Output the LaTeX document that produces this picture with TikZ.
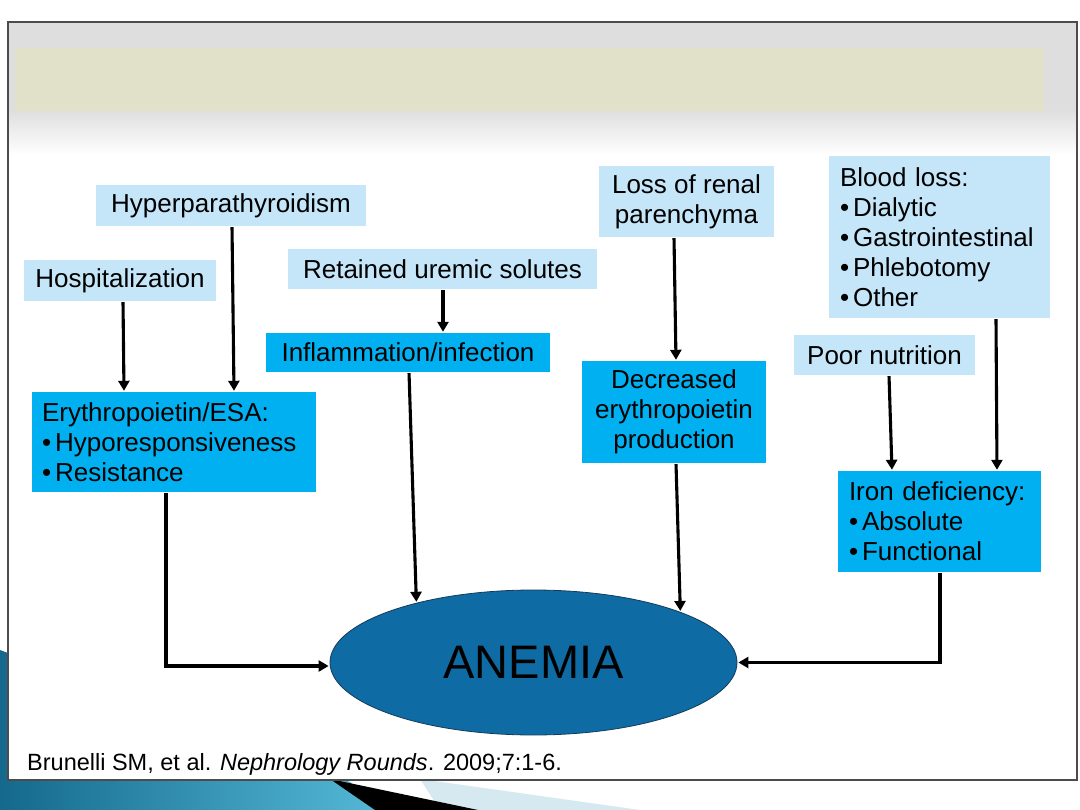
\documentclass[tikz,border=0pt]{standalone}
\usepackage{fontspec}
\setmainfont{Liberation Sans}
\usetikzlibrary{arrows.meta,shapes.geometric}
\definecolor{lightbox}{RGB}{197,230,248}
\definecolor{darkbox}{RGB}{0,176,240}
\definecolor{ellfill}{RGB}{14,107,164}
\definecolor{elldraw}{RGB}{20,60,90}
\definecolor{titlebar}{RGB}{225,225,201}
\definecolor{topgrey}{RGB}{222,222,222}
\definecolor{tealA}{RGB}{20,105,140}
\definecolor{tealB}{RGB}{85,185,215}
\definecolor{paleblue}{RGB}{214,232,240}
\begin{document}
\begin{tikzpicture}[x=1pt,y=-1pt,
  txt/.style={inner sep=0pt, font=\fontsize{26}{30}\selectfont},
  lbox/.style={txt, fill=lightbox},
  dbox/.style={txt, fill=darkbox},
  arr/.style={line width=3.1pt, -{Triangle[length=10pt,width=11pt]}, shorten <=1pt, shorten >=1pt}]
\useasboundingbox (0,0) rectangle (1080,810);
\fill[white] (0,0) rectangle (1080,810);
% bottom-left swoosh
\shade[left color=tealA, right color=tealB] (0,650) -- (350,782) -- (385,810) -- (0,810) -- cycle;
\fill[paleblue] (420,779) -- (640,810) -- (440,810) -- cycle;
\fill[black] (330,779) -- (478,810) -- (375,810) -- cycle;
% slide frame
\fill[white] (8,22) rectangle (1077,780);
\fill[topgrey] (8,22) rectangle (1077,110);
\shade[top color=topgrey, bottom color=white] (8,109.5) rectangle (1077,155);
\draw[draw=black!70, line width=1.2pt] (8,22) rectangle (1077,780);
\fill[titlebar] (15,48) rectangle (1044,111);
% nodes
\node[lbox, minimum width=270pt, minimum height=41pt] (hyper) at (231,205.5) {Hyperparathyroidism};
\node[lbox, minimum width=192pt, minimum height=41pt] (hosp) at (120,280.5) {Hospitalization};
\node[lbox, minimum width=309pt, minimum height=40pt] (ret) at (442.5,269) {Retained uremic solutes};
\node[dbox, minimum width=284pt, minimum height=39pt] (infl) at (408,352.5) {Inflammation/infection};
\node[lbox, minimum width=175pt, minimum height=71pt, align=center] (loss) at (686.5,201.5) {Loss of renal\\parenchyma};
\node[lbox, text width=199pt, inner xsep=11pt, minimum height=162pt, align=left] (blood) at (939.5,237)
  {Blood loss:\\\textbullet\hspace{4pt}Dialytic\\\textbullet\hspace{4pt}Gastrointestinal\\\textbullet\hspace{4pt}Phlebotomy\\\textbullet\hspace{4pt}Other};
\node[lbox, minimum width=181pt, minimum height=40pt] (poor) at (884.5,355) {Poor nutrition};
\node[dbox, text width=264pt, inner xsep=10pt, minimum height=100pt, align=left] (epo) at (174,442)
  {Erythropoietin/ESA:\\\textbullet\hspace{4pt}Hyporesponsiveness\\\textbullet\hspace{4pt}Resistance};
\node[dbox, minimum width=184pt, minimum height=102pt, align=center] (dec) at (674,412) {Decreased\\erythropoietin\\production};
\node[dbox, text width=181pt, inner xsep=11pt, minimum height=101pt, align=left] (iron) at (939.5,521.5)
  {Iron deficiency:\\\textbullet\hspace{4pt}Absolute\\\textbullet\hspace{4pt}Functional};
\node[ellipse, fill=ellfill, draw=elldraw, line width=0.8pt, minimum width=407pt, minimum height=145pt, inner sep=0pt,
  font=\fontsize{47}{50}\selectfont] (anemia) at (533.5,662.5) {ANEMIA};
\node[anchor=base west, inner sep=0pt, font=\fontsize{23.5}{26}\selectfont] (cite) at (27,770)
  {Brunelli SM, et al. {\itshape Nephrology Rounds}. 2009;7:1-6.};
% connectors
\draw[arr] ([xshift=3pt]hosp.south) -- ([xshift=-50pt]epo.north);
\draw[arr] ([xshift=1pt]hyper.south) -- ([xshift=60pt]epo.north);
\draw[arr] ([xshift=0.5pt]ret.south) -- ([xshift=35pt]infl.north);
\draw[arr] ([xshift=1pt]infl.south) -- (anemia.153.3);
\draw[arr] ([xshift=-12.5pt]loss.south) -- ([xshift=2pt]dec.north);
\draw[arr] ([xshift=2pt]dec.south) -- (anemia.19.7);
\draw[arr] ([xshift=4.5pt]poor.south) -- ([xshift=-47.5pt]iron.north);
\draw[arr] ([xshift=56.5pt]blood.south) -- ([xshift=57.5pt]iron.north);
\draw[arr] ([xshift=-8pt]epo.south) |- ([yshift=-3.5pt]anemia.west);
\draw[arr] ([xshift=0.5pt]iron.south) |- (anemia.east);
\end{tikzpicture}
\end{document}
